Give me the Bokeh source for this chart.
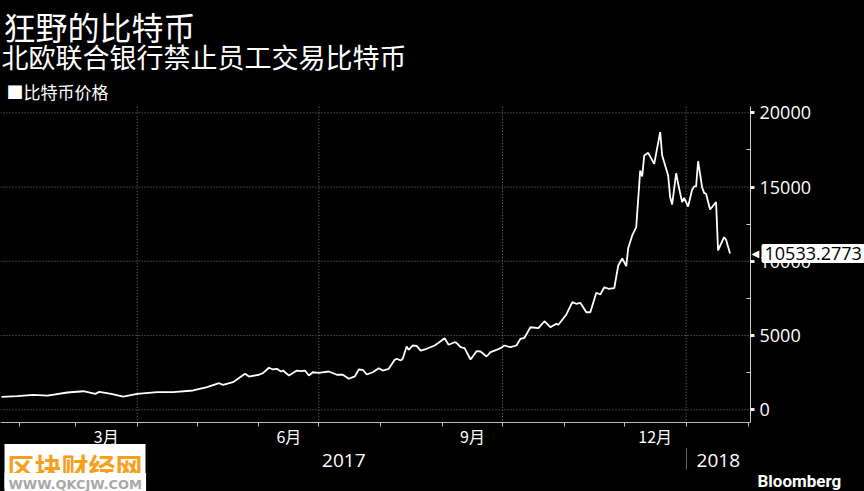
import pandas as pd
from bokeh.plotting import figure
from bokeh.models import Range1d, LinearAxis, FixedTicker, Label, ColumnDataSource
from bokeh.embed import file_html
from bokeh.resources import INLINE

title_text = "狂野的比特币"
subtitle_text = "北欧联合银行禁止员工交易比特币"
legend_text = "■比特币价格"
source_text = "Bloomberg"
watermark_text = "区块财经网"
watermark_url = "WWW.QKCJW.COM"

dates = [
    "2017-01-23", "2017-01-31", "2017-02-08", "2017-02-15", "2017-02-25", "2017-03-05",
    "2017-03-11", "2017-03-13", "2017-03-19", "2017-03-25", "2017-04-01", "2017-04-11",
    "2017-04-19", "2017-04-29", "2017-05-06", "2017-05-12", "2017-05-14", "2017-05-19",
    "2017-05-25", "2017-05-27", "2017-06-01", "2017-06-03", "2017-06-06", "2017-06-08",
    "2017-06-10", "2017-06-12", "2017-06-13", "2017-06-16", "2017-06-20", "2017-06-22",
    "2017-06-24", "2017-06-26", "2017-06-28", "2017-07-01", "2017-07-06", "2017-07-10",
    "2017-07-13", "2017-07-16", "2017-07-18", "2017-07-19", "2017-07-21", "2017-07-23",
    "2017-07-25", "2017-07-28", "2017-07-31", "2017-08-02", "2017-08-05", "2017-08-08",
    "2017-08-09", "2017-08-11", "2017-08-12", "2017-08-14", "2017-08-15", "2017-08-17",
    "2017-08-19", "2017-08-21", "2017-08-24", "2017-08-28", "2017-08-30", "2017-09-02",
    "2017-09-04", "2017-09-07", "2017-09-08", "2017-09-10", "2017-09-12", "2017-09-15",
    "2017-09-18", "2017-09-20", "2017-09-23", "2017-09-25", "2017-09-28", "2017-09-30",
    "2017-10-02", "2017-10-05", "2017-10-08", "2017-10-10", "2017-10-12", "2017-10-15",
    "2017-10-19", "2017-10-22", "2017-10-25", "2017-10-28", "2017-10-29", "2017-11-02",
    "2017-11-05", "2017-11-07", "2017-11-09", "2017-11-12", "2017-11-14", "2017-11-17",
    "2017-11-19", "2017-11-21", "2017-11-23", "2017-11-26", "2017-11-28", "2017-11-30",
    "2017-12-02", "2017-12-03", "2017-12-05", "2017-12-07", "2017-12-09", "2017-12-10",
    "2017-12-11", "2017-12-13", "2017-12-16", "2017-12-19", "2017-12-20", "2017-12-23",
    "2017-12-24", "2017-12-25", "2017-12-27", "2017-12-28", "2017-12-30", "2017-12-31",
    "2018-01-02", "2018-01-04", "2018-01-05", "2018-01-06", "2018-01-07", "2018-01-09",
    "2018-01-10", "2018-01-11", "2018-01-13", "2018-01-16", "2018-01-17", "2018-01-20",
    "2018-01-21", "2018-01-23",
]
prices = [
    870, 915, 1010, 950, 1165, 1250,
    1075, 1210, 1075, 895, 1075, 1185,
    1185, 1300, 1520, 1790, 1680, 1860,
    2420, 2240, 2360, 2465, 2830, 2715,
    2760, 2580, 2645, 2310, 2645, 2600,
    2645, 2310, 2530, 2490, 2580, 2360,
    2360, 2090, 2195, 2240, 2715, 2695,
    2375, 2530, 2800, 2645, 2760, 3365,
    3435, 3320, 3435, 4260, 4040, 4330,
    4310, 3990, 4110, 4330, 4510, 4820,
    4380, 4550, 4510, 4215, 4150, 3390,
    3945, 3925, 3590, 3880, 4040, 4150,
    4330, 4215, 4330, 4780, 4850, 5560,
    5495, 5965, 5560, 5790, 5725, 6420,
    7245, 7140, 7205, 6570, 6570, 7880,
    7765, 8255, 8150, 8190, 9720, 10190,
    9680, 10900, 11740, 12300, 16115, 15710,
    17125, 17305, 16565, 18695, 17125, 15780,
    14320, 13825, 15930, 15220, 13985, 14275,
    13690, 14815, 15040, 15040, 16740, 14990,
    14610, 14545, 13490, 13985, 10730, 11620,
    11450, 10533.2773,
]

label_months = {3: "3月", 6: "6月", 9: "9月", 12: "12月"}
year_labels = ["2017", "2018"]
y_ticks = [0, 5000, 10000, 15000, 20000]
y_minor = [2500, 7500, 12500, 17500]
grid_dates = ["2017-04-01", "2017-07-01", "2017-10-01", "2018-01-01"]

# ---- layout geometry (canvas pixels) ----
W, H = 864, 491
X_REF0 = pd.Timestamp("2017-01-22 12:00")   # date at the canvas' left edge
PX_PER_DAY = 1.996
ZERO_Y = 409.3                # canvas y of value 0
PX_PER_UNIT = 14.85 / 1000.0
AXIS_X = 750                  # canvas x of the value axis
PLOT_TOP, PLOT_BOTTOM = 106, 422.3
YEAR_ROW = 448


def ms(t):
    return float(pd.Timestamp(t).value // 10**6)


def date_at(cx):
    return X_REF0 + pd.Timedelta(days=cx / PX_PER_DAY)


def value_at(cy):
    return (ZERO_Y - cy) / PX_PER_UNIT


FONT_CJK = "Noto Sans CJK SC"
FONT_NUM = "Open Sans"

x0, x1 = ms(date_at(0)), ms(date_at(W))
y0, y1 = value_at(H), value_at(0)
axis_x = ms(date_at(AXIS_X))
v_top, v_bottom = value_at(PLOT_TOP), value_at(PLOT_BOTTOM)

p = figure(width=W, height=H, x_range=Range1d(x0, x1), y_range=Range1d(y0, y1),
           x_axis_type=None, y_axis_type=None,
           output_backend="svg", toolbar_location=None,
           min_border=0, min_border_left=0, min_border_right=0, min_border_top=0, min_border_bottom=0,
           background_fill_color="black", border_fill_color="black", outline_line_color=None)

# grid lines (dotted) bounded to the plotting area
gdash = "1 2"
p.segment(x0=[x0] * len(y_ticks), y0=y_ticks, x1=[axis_x] * len(y_ticks), y1=y_ticks,
          line_color="#777777", line_dash=gdash, line_width=1)
p.segment(x0=[ms(d) for d in grid_dates], y0=[v_bottom] * len(grid_dates),
          x1=[ms(d) for d in grid_dates], y1=[v_top] * len(grid_dates),
          line_color="#777777", line_dash=gdash, line_width=1)

# data line
src = ColumnDataSource(dict(date=[ms(d) for d in dates], price=prices))
p.line("date", "price", source=src, line_color="white", line_width=1.8)

# month axis
month_starts = pd.date_range("2017-02-01", "2018-02-01", freq="MS")
mid_ticks, mid_over = [], {}
for m0 in month_starts[:-1]:
    if m0.month in label_months:
        m1 = m0 + pd.offsets.MonthBegin(1)
        mid = float((m0.value + (m1.value - m0.value) // 2) // 10**6)
        mid_ticks.append(mid)
        mid_over[mid] = label_months[m0.month]
ax_m = LinearAxis(ticker=FixedTicker(ticks=mid_ticks, minor_ticks=[ms(t) for t in month_starts]),
                  major_label_overrides=mid_over, fixed_location=v_bottom, bounds=(x0, axis_x),
                  axis_line_color="#bbbbbb", major_tick_line_color=None, major_tick_out=0, major_tick_in=0,
                  minor_tick_line_color="#bbbbbb", minor_tick_out=4, minor_tick_in=0,
                  major_label_text_color="white", major_label_text_font=FONT_CJK,
                  major_label_text_font_size="16px", major_label_standoff=-3)
p.add_layout(ax_m, "below")

# year axis
y2018 = ms("2018-01-01")
c2017 = float((ms(dates[0]) + y2018) / 2)
c2018 = float((y2018 + axis_x) / 2)
ax_yr = LinearAxis(ticker=FixedTicker(ticks=[c2017, c2018], minor_ticks=[y2018]),
                   major_label_overrides={c2017: year_labels[0], c2018: year_labels[1]},
                   fixed_location=value_at(YEAR_ROW),
                   axis_line_color=None, major_tick_line_color=None, major_tick_out=0, major_tick_in=0,
                   minor_tick_line_color="#666666", minor_tick_out=21, minor_tick_in=0,
                   major_label_text_color="white", major_label_text_font=FONT_NUM,
                   major_label_text_font_size="19px", major_label_standoff=-16)
p.add_layout(ax_yr, "below")

# value axis
ax_y = LinearAxis(ticker=FixedTicker(ticks=y_ticks, minor_ticks=y_minor),
                  fixed_location=axis_x, bounds=(v_bottom, v_top),
                  axis_line_color="#cccccc", major_tick_line_color="#eeeeee", major_tick_line_width=3,
                  major_tick_out=4, major_tick_in=0,
                  minor_tick_line_color="#cccccc", minor_tick_in=4, minor_tick_out=0,
                  major_label_text_color="white", major_label_text_font=FONT_NUM,
                  major_label_text_font_size="18px", major_label_standoff=5)
p.add_layout(ax_y, "right")


def txt(text, cx, cy, size, color="white", font=FONT_CJK, style="normal", **kw):
    return Label(x=cx, y=H - cy, x_units="screen", y_units="screen", text=text,
                 text_font=font, text_font_size=size, text_font_style=style,
                 text_color=color, text_baseline="middle", **kw)


# titles
p.add_layout(txt(title_text, 3, 25, "32px"))
p.add_layout(txt(subtitle_text, 1, 56, "27px"))
p.add_layout(txt(legend_text, 6, 91, "17px"))

# last value tag
p.add_layout(Label(x=AXIS_X + 1, y=prices[-1], x_units="screen", y_units="data", text="◀",
                   text_font="DejaVu Sans", text_font_size="10px", text_color="white", text_baseline="middle"))
p.add_layout(Label(x=AXIS_X + 11, y=prices[-1], x_units="screen", y_units="data", text=f"{prices[-1]:.4f}",
                   text_font=FONT_NUM, text_font_size="18px", text_color="black", text_baseline="middle",
                   background_fill_color="white", padding=3, border_radius=2))

# source
p.add_layout(txt(source_text, AXIS_X + 7, 480, "17px", font="Roboto", style="bold"))

# watermark
p.add_layout(txt(watermark_text, 4, 466, "27px", color="#f7a01e", style="bold",
                 background_fill_color="white", padding=3))
p.add_layout(txt(watermark_url, 4, 484, "13px", color="#a8a8a8", font="DejaVu Sans", style="bold",
                 background_fill_color="white", padding=4))

html = file_html(p, INLINE).replace("</head>", "<style>html,body{background:#000000;}</style></head>", 1)
open("out.html", "w").write(html)
